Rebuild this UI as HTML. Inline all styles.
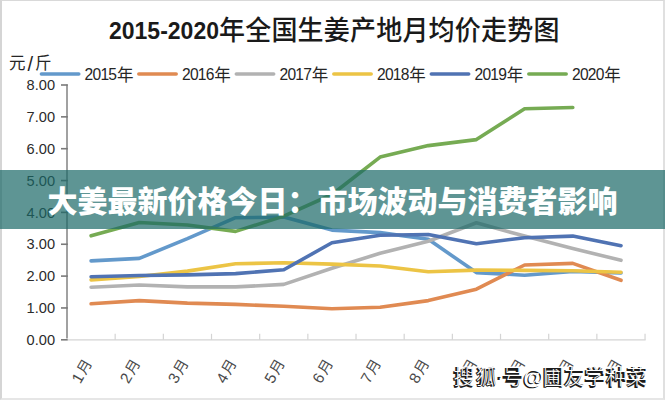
<!DOCTYPE html>
<html><head><meta charset="utf-8"><title>大姜最新价格今日</title>
<style>
html,body{margin:0;padding:0;}
body{width:665px;height:400px;overflow:hidden;background:#fff;position:relative;font-family:"Liberation Sans","Noto Sans CJK SC",sans-serif;}
.frame{position:absolute;left:0;top:0;width:665px;height:400px;box-sizing:border-box;border-left:2px solid #d5d5d5;border-top:1px solid #d9d9d9;border-right:2px solid #e0e0e0;border-bottom:2px solid #e6e6e6;}
svg{position:absolute;left:0;top:0;}
.banner{position:absolute;left:0;top:170px;width:665px;height:59px;background:rgba(25,104,103,0.70);}
.banner h1{margin:0;position:absolute;left:0;right:0;top:1.8px;line-height:59px;text-align:center;color:#fff;font-size:30px;font-weight:900;font-family:"Liberation Sans","Noto Sans CJK SC",sans-serif;letter-spacing:0;white-space:nowrap;}
</style></head>
<body>
<svg width="665" height="400" viewBox="0 0 665 400">
<text x="109" y="38.5" font-size="23" font-weight="700" font-family='"Liberation Sans", "Noto Sans CJK SC", sans-serif' fill="#1a1a1a">2015-2020</text>
<text x="219" y="0" transform="translate(0 40) scale(1 1.05)" font-size="26" font-weight="500" letter-spacing="0.22" font-family='"Liberation Sans", "Noto Sans CJK SC", sans-serif' fill="#1a1a1a">年全国生姜产地月均价走势图</text>
<text y="68.5" font-size="16.5" fill="#262626" font-family='"Liberation Sans", "Noto Sans CJK SC", sans-serif'><tspan x="9">元</tspan><tspan x="27.6" y="71.2" font-size="20" font-family="Liberation Sans">/</tspan><tspan x="35" y="68.5">斤</tspan></text>
<line x1="41.4" y1="74" x2="78.8" y2="74" stroke="#6399cb" stroke-width="3.5" stroke-linecap="round"/>
<text x="84.6" y="80.2" font-size="15.6" fill="#262626" font-family='"Liberation Sans", "Noto Sans CJK SC", sans-serif' letter-spacing="-0.75">2015<tspan font-size="16.5" letter-spacing="0" dx="0.6" dy="0.5">年</tspan></text>
<line x1="138.8" y1="74" x2="176.2" y2="74" stroke="#e08a52" stroke-width="3.5" stroke-linecap="round"/>
<text x="182.0" y="80.2" font-size="15.6" fill="#262626" font-family='"Liberation Sans", "Noto Sans CJK SC", sans-serif' letter-spacing="-0.75">2016<tspan font-size="16.5" letter-spacing="0" dx="0.6" dy="0.5">年</tspan></text>
<line x1="236.3" y1="74" x2="273.7" y2="74" stroke="#b2b2b2" stroke-width="3.5" stroke-linecap="round"/>
<text x="279.5" y="80.2" font-size="15.6" fill="#262626" font-family='"Liberation Sans", "Noto Sans CJK SC", sans-serif' letter-spacing="-0.75">2017<tspan font-size="16.5" letter-spacing="0" dx="0.6" dy="0.5">年</tspan></text>
<line x1="333.8" y1="74" x2="371.2" y2="74" stroke="#ecc445" stroke-width="3.5" stroke-linecap="round"/>
<text x="377.0" y="80.2" font-size="15.6" fill="#262626" font-family='"Liberation Sans", "Noto Sans CJK SC", sans-serif' letter-spacing="-0.75">2018<tspan font-size="16.5" letter-spacing="0" dx="0.6" dy="0.5">年</tspan></text>
<line x1="431.3" y1="74" x2="468.7" y2="74" stroke="#5073b3" stroke-width="3.5" stroke-linecap="round"/>
<text x="474.5" y="80.2" font-size="15.6" fill="#262626" font-family='"Liberation Sans", "Noto Sans CJK SC", sans-serif' letter-spacing="-0.75">2019<tspan font-size="16.5" letter-spacing="0" dx="0.6" dy="0.5">年</tspan></text>
<line x1="528.8" y1="74" x2="566.2" y2="74" stroke="#76ab53" stroke-width="3.5" stroke-linecap="round"/>
<text x="572.0" y="80.2" font-size="15.6" fill="#262626" font-family='"Liberation Sans", "Noto Sans CJK SC", sans-serif' letter-spacing="-0.75">2020<tspan font-size="16.5" letter-spacing="0" dx="0.6" dy="0.5">年</tspan></text>
<line x1="67" y1="84.40" x2="67" y2="338.5" stroke="#8a8a8a" stroke-width="1.6"/>
<line x1="61" y1="339.80" x2="67.8" y2="339.80" stroke="#7a7a7a" stroke-width="1.6"/>
<text x="55" y="344.90" font-size="14.6" text-anchor="end" fill="#2b2b2b" font-family='"Liberation Sans", "Noto Sans CJK SC", sans-serif'>0.00</text>
<line x1="61" y1="307.95" x2="67.8" y2="307.95" stroke="#7a7a7a" stroke-width="1.6"/>
<text x="55" y="313.05" font-size="14.6" text-anchor="end" fill="#2b2b2b" font-family='"Liberation Sans", "Noto Sans CJK SC", sans-serif'>1.00</text>
<line x1="61" y1="276.10" x2="67.8" y2="276.10" stroke="#7a7a7a" stroke-width="1.6"/>
<text x="55" y="281.20" font-size="14.6" text-anchor="end" fill="#2b2b2b" font-family='"Liberation Sans", "Noto Sans CJK SC", sans-serif'>2.00</text>
<line x1="61" y1="244.25" x2="67.8" y2="244.25" stroke="#7a7a7a" stroke-width="1.6"/>
<text x="55" y="249.35" font-size="14.6" text-anchor="end" fill="#2b2b2b" font-family='"Liberation Sans", "Noto Sans CJK SC", sans-serif'>3.00</text>
<line x1="61" y1="212.40" x2="67.8" y2="212.40" stroke="#7a7a7a" stroke-width="1.6"/>
<text x="55" y="217.50" font-size="14.6" text-anchor="end" fill="#2b2b2b" font-family='"Liberation Sans", "Noto Sans CJK SC", sans-serif'>4.00</text>
<line x1="61" y1="180.55" x2="67.8" y2="180.55" stroke="#7a7a7a" stroke-width="1.6"/>
<text x="55" y="185.65" font-size="14.6" text-anchor="end" fill="#2b2b2b" font-family='"Liberation Sans", "Noto Sans CJK SC", sans-serif'>5.00</text>
<line x1="61" y1="148.70" x2="67.8" y2="148.70" stroke="#7a7a7a" stroke-width="1.6"/>
<text x="55" y="153.80" font-size="14.6" text-anchor="end" fill="#2b2b2b" font-family='"Liberation Sans", "Noto Sans CJK SC", sans-serif'>6.00</text>
<line x1="61" y1="116.85" x2="67.8" y2="116.85" stroke="#7a7a7a" stroke-width="1.6"/>
<text x="55" y="121.95" font-size="14.6" text-anchor="end" fill="#2b2b2b" font-family='"Liberation Sans", "Noto Sans CJK SC", sans-serif'>7.00</text>
<line x1="61" y1="85.00" x2="67.8" y2="85.00" stroke="#7a7a7a" stroke-width="1.6"/>
<text x="55" y="90.10" font-size="14.6" text-anchor="end" fill="#2b2b2b" font-family='"Liberation Sans", "Noto Sans CJK SC", sans-serif'>8.00</text>
<line x1="67.8" y1="339.80" x2="645.64" y2="339.80" stroke="#d4d4d4" stroke-width="1.3"/>
<line x1="115.17" y1="333.8" x2="115.17" y2="339.8" stroke="#d4d4d4" stroke-width="1.2"/>
<line x1="163.34" y1="333.8" x2="163.34" y2="339.8" stroke="#d4d4d4" stroke-width="1.2"/>
<line x1="211.51" y1="333.8" x2="211.51" y2="339.8" stroke="#d4d4d4" stroke-width="1.2"/>
<line x1="259.68" y1="333.8" x2="259.68" y2="339.8" stroke="#d4d4d4" stroke-width="1.2"/>
<line x1="307.85" y1="333.8" x2="307.85" y2="339.8" stroke="#d4d4d4" stroke-width="1.2"/>
<line x1="356.02" y1="333.8" x2="356.02" y2="339.8" stroke="#d4d4d4" stroke-width="1.2"/>
<line x1="404.19" y1="333.8" x2="404.19" y2="339.8" stroke="#d4d4d4" stroke-width="1.2"/>
<line x1="452.36" y1="333.8" x2="452.36" y2="339.8" stroke="#d4d4d4" stroke-width="1.2"/>
<line x1="500.53" y1="333.8" x2="500.53" y2="339.8" stroke="#d4d4d4" stroke-width="1.2"/>
<line x1="548.70" y1="333.8" x2="548.70" y2="339.8" stroke="#d4d4d4" stroke-width="1.2"/>
<line x1="596.87" y1="333.8" x2="596.87" y2="339.8" stroke="#d4d4d4" stroke-width="1.2"/>
<line x1="645.04" y1="333.8" x2="645.04" y2="339.8" stroke="#d4d4d4" stroke-width="1.2"/>
<text x="92.6" y="363" font-size="15.5" text-anchor="end" fill="#4a4a4a" font-family='"Liberation Sans", "Noto Sans CJK SC", sans-serif' transform="rotate(-60 92.6 363)">1<tspan dx="1.6" font-size="14.5">月</tspan></text>
<text x="140.8" y="363" font-size="15.5" text-anchor="end" fill="#4a4a4a" font-family='"Liberation Sans", "Noto Sans CJK SC", sans-serif' transform="rotate(-60 140.8 363)">2<tspan dx="1.6" font-size="14.5">月</tspan></text>
<text x="188.9" y="363" font-size="15.5" text-anchor="end" fill="#4a4a4a" font-family='"Liberation Sans", "Noto Sans CJK SC", sans-serif' transform="rotate(-60 188.9 363)">3<tspan dx="1.6" font-size="14.5">月</tspan></text>
<text x="237.1" y="363" font-size="15.5" text-anchor="end" fill="#4a4a4a" font-family='"Liberation Sans", "Noto Sans CJK SC", sans-serif' transform="rotate(-60 237.1 363)">4<tspan dx="1.6" font-size="14.5">月</tspan></text>
<text x="285.3" y="363" font-size="15.5" text-anchor="end" fill="#4a4a4a" font-family='"Liberation Sans", "Noto Sans CJK SC", sans-serif' transform="rotate(-60 285.3 363)">5<tspan dx="1.6" font-size="14.5">月</tspan></text>
<text x="333.4" y="363" font-size="15.5" text-anchor="end" fill="#4a4a4a" font-family='"Liberation Sans", "Noto Sans CJK SC", sans-serif' transform="rotate(-60 333.4 363)">6<tspan dx="1.6" font-size="14.5">月</tspan></text>
<text x="381.6" y="363" font-size="15.5" text-anchor="end" fill="#4a4a4a" font-family='"Liberation Sans", "Noto Sans CJK SC", sans-serif' transform="rotate(-60 381.6 363)">7<tspan dx="1.6" font-size="14.5">月</tspan></text>
<text x="429.8" y="363" font-size="15.5" text-anchor="end" fill="#4a4a4a" font-family='"Liberation Sans", "Noto Sans CJK SC", sans-serif' transform="rotate(-60 429.8 363)">8<tspan dx="1.6" font-size="14.5">月</tspan></text>
<text x="477.9" y="363" font-size="15.5" text-anchor="end" fill="#4a4a4a" font-family='"Liberation Sans", "Noto Sans CJK SC", sans-serif' transform="rotate(-60 477.9 363)">9<tspan dx="1.6" font-size="14.5">月</tspan></text>
<text x="526.1" y="363" font-size="15.5" text-anchor="end" fill="#4a4a4a" font-family='"Liberation Sans", "Noto Sans CJK SC", sans-serif' transform="rotate(-60 526.1 363)">10<tspan dx="1.6" font-size="14.5">月</tspan></text>
<text x="574.3" y="363" font-size="15.5" text-anchor="end" fill="#4a4a4a" font-family='"Liberation Sans", "Noto Sans CJK SC", sans-serif' transform="rotate(-60 574.3 363)">11<tspan dx="1.6" font-size="14.5">月</tspan></text>
<text x="622.5" y="363" font-size="15.5" text-anchor="end" fill="#4a4a4a" font-family='"Liberation Sans", "Noto Sans CJK SC", sans-serif' transform="rotate(-60 622.5 363)">12<tspan dx="1.6" font-size="14.5">月</tspan></text>
<polyline points="91.1,260.9 139.3,258.4 187.4,238.7 235.6,217.7 283.8,217.1 331.9,230.1 380.1,232.6 428.3,239.3 476.4,272.6 524.6,275.2 572.8,271.4 621.0,273.0" fill="none" stroke="#6399cb" stroke-width="3.6" stroke-linejoin="round" stroke-linecap="round"/>
<polyline points="91.1,303.8 139.3,300.6 187.4,303.1 235.6,304.4 283.8,306.3 331.9,308.8 380.1,307.2 428.3,300.6 476.4,289.2 524.6,265.0 572.8,263.4 621.0,280.3" fill="none" stroke="#e08a52" stroke-width="3.6" stroke-linejoin="round" stroke-linecap="round"/>
<polyline points="91.1,287.2 139.3,285.0 187.4,286.9 235.6,286.9 283.8,284.4 331.9,268.2 380.1,253.3 428.3,241.2 476.4,222.8 524.6,236.1 572.8,248.5 621.0,260.3" fill="none" stroke="#b2b2b2" stroke-width="3.6" stroke-linejoin="round" stroke-linecap="round"/>
<polyline points="91.1,279.9 139.3,276.5 187.4,271.1 235.6,263.8 283.8,262.8 331.9,264.1 380.1,266.0 428.3,271.7 476.4,270.1 524.6,270.4 572.8,270.7 621.0,272.3" fill="none" stroke="#ecc445" stroke-width="3.6" stroke-linejoin="round" stroke-linecap="round"/>
<polyline points="91.1,276.8 139.3,275.5 187.4,274.9 235.6,273.6 283.8,269.8 331.9,242.8 380.1,235.2 428.3,234.5 476.4,243.8 524.6,237.7 572.8,236.1 621.0,245.7" fill="none" stroke="#5073b3" stroke-width="3.6" stroke-linejoin="round" stroke-linecap="round"/>
<polyline points="91.1,235.8 139.3,222.5 187.4,225.0 235.6,231.4 283.8,216.1 331.9,194.5 380.1,157.1 428.3,145.6 476.4,139.6 524.6,108.8 572.8,107.5" fill="none" stroke="#76ab53" stroke-width="3.6" stroke-linejoin="round" stroke-linecap="round"/>
<rect x="446" y="366.5" width="204" height="25" fill="#fff"/>
<text x="452.4" y="385.2" font-size="21" font-weight="900" fill="#1c1c1c" font-family='"Liberation Sans", "Noto Sans CJK SC", sans-serif'>搜</text>
<text x="453.6" y="384.0" font-size="21" font-weight="300" fill="#fff" font-family='"Liberation Sans", "Noto Sans CJK SC", sans-serif'>搜</text>
<text x="474.9" y="385.2" font-size="21" font-weight="900" fill="#1c1c1c" font-family='"Liberation Sans", "Noto Sans CJK SC", sans-serif'>狐</text>
<text x="476.1" y="384.0" font-size="21" font-weight="300" fill="#fff" font-family='"Liberation Sans", "Noto Sans CJK SC", sans-serif'>狐</text>
<text x="496.0" y="385.2" font-size="21" font-weight="900" fill="#1c1c1c" font-family='"Liberation Sans", "Noto Sans CJK SC", sans-serif'>·</text>
<text x="497.2" y="384.0" font-size="21" font-weight="300" fill="#fff" font-family='"Liberation Sans", "Noto Sans CJK SC", sans-serif'>·</text>
<text x="501.4" y="385.2" font-size="21" font-weight="900" fill="#1c1c1c" font-family='"Liberation Sans", "Noto Sans CJK SC", sans-serif'>号</text>
<text x="502.6" y="384.0" font-size="21" font-weight="300" fill="#fff" font-family='"Liberation Sans", "Noto Sans CJK SC", sans-serif'>号</text>
<text x="521.9" y="385.2" font-size="21" font-weight="900" fill="#1c1c1c" font-family='"Liberation Sans", "Noto Sans CJK SC", sans-serif'>@</text>
<text x="523.1" y="384.0" font-size="21" font-weight="300" fill="#fff" font-family='"Liberation Sans", "Noto Sans CJK SC", sans-serif'>@</text>
<text x="541.9" y="385.2" font-size="21" font-weight="900" fill="#1c1c1c" font-family='"Liberation Sans", "Noto Sans CJK SC", sans-serif'>圃</text>
<text x="543.1" y="384.0" font-size="21" font-weight="300" fill="#fff" font-family='"Liberation Sans", "Noto Sans CJK SC", sans-serif'>圃</text>
<text x="562.9" y="385.2" font-size="21" font-weight="900" fill="#1c1c1c" font-family='"Liberation Sans", "Noto Sans CJK SC", sans-serif'>友</text>
<text x="564.1" y="384.0" font-size="21" font-weight="300" fill="#fff" font-family='"Liberation Sans", "Noto Sans CJK SC", sans-serif'>友</text>
<text x="583.4" y="385.2" font-size="21" font-weight="900" fill="#1c1c1c" font-family='"Liberation Sans", "Noto Sans CJK SC", sans-serif'>学</text>
<text x="584.6" y="384.0" font-size="21" font-weight="300" fill="#fff" font-family='"Liberation Sans", "Noto Sans CJK SC", sans-serif'>学</text>
<text x="604.9" y="385.2" font-size="21" font-weight="900" fill="#1c1c1c" font-family='"Liberation Sans", "Noto Sans CJK SC", sans-serif'>种</text>
<text x="606.1" y="384.0" font-size="21" font-weight="300" fill="#fff" font-family='"Liberation Sans", "Noto Sans CJK SC", sans-serif'>种</text>
<text x="625.4" y="385.2" font-size="21" font-weight="900" fill="#1c1c1c" font-family='"Liberation Sans", "Noto Sans CJK SC", sans-serif'>菜</text>
<text x="626.6" y="384.0" font-size="21" font-weight="300" fill="#fff" font-family='"Liberation Sans", "Noto Sans CJK SC", sans-serif'>菜</text>
</svg>
<div class="frame"></div>
<div class="banner"><h1>大姜最新价格今日：市场波动与消费者影响</h1></div>
</body></html>
